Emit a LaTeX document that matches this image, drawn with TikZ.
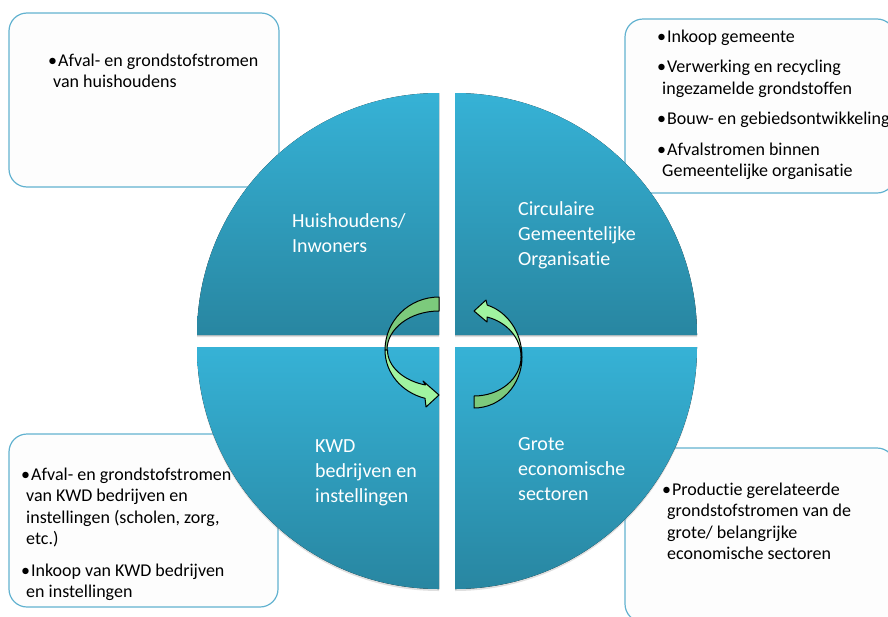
\documentclass[tikz,border=0pt]{standalone}
\usepackage{fontspec}
\setmainfont{Carlito}[Ligatures=NoCommon]
\usetikzlibrary{shadows}

\definecolor{quarterlight}{RGB}{54,178,214}
\definecolor{quarterdark}{RGB}{40,134,161}
\definecolor{boxline}{RGB}{98,178,208}
\definecolor{boxfill}{RGB}{253,253,253}
\definecolor{ribbondark}{RGB}{124,202,124}
\definecolor{ribbonlight}{RGB}{160,244,160}

\newcommand{\bul}{\textbullet\kern1pt}
\newcommand{\contl}{\hspace*{5pt}}

\begin{document}
\begin{tikzpicture}[x=1pt, y=-1pt,
        infobox/.style={draw=boxline, line width=1.2pt, fill=boxfill, rounded corners=18pt},
        quarter/.style={top color=quarterlight, bottom color=quarterdark, drop shadow={opacity=0.25, shadow xshift=0pt, shadow yshift=-2pt}},
        qlabel/.style={anchor=north west, align=left, inner sep=0pt, text=white, font=\fontsize{20}{25}\selectfont},
        blabel/.style={anchor=north west, align=left, inner sep=0pt, font=\fontsize{18}{21.5}\selectfont},
        ribbon/.style={draw=black, line width=1pt, line join=round}]
    \useasboundingbox (0,0) rectangle (888,616);
    % Info boxes
    \draw[infobox] (9,13) rectangle (279,187);
    \draw[infobox] (625,19) rectangle (895,193);
    \draw[infobox] (9,434) rectangle (278,607);
    \draw[infobox] (625,448) rectangle (895,622);
    \node[blabel] (hhtxt) at (48,51) {\strut\bul Afval- en grondstofstromen\\\contl van huishoudens};
    \node[blabel] (cgotxt) at (657,27) {\strut\bul Inkoop gemeente\\[9pt]\bul Verwerking en recycling\\\contl ingezamelde grondstoffen\\[9pt]\bul Bouw- en gebiedsontwikkeling\\[9pt]\bul Afvalstromen binnen\\\contl Gemeentelijke organisatie};
    \node[blabel] (kwdtxt) at (21,465) {\strut\bul Afval- en grondstofstromen\\\contl van KWD bedrijven en\\\contl instellingen (scholen, zorg,\\\contl etc.)\\[10pt]\bul Inkoop van KWD bedrijven\\\contl en instellingen};
    \node[blabel] (gestxt) at (662,480) {\strut\bul Productie gerelateerde\\\contl grondstofstromen van de\\\contl grote/ belangrijke\\\contl economische sectoren};
    % Quarters of the circle
    \fill[quarter] (439,335) -- (197,335) arc[start angle=180, end angle=270, radius=242] -- cycle;
    \fill[quarter] (455,335) -- (455,93) arc[start angle=270, end angle=360, radius=242] -- cycle;
    \fill[quarter] (439,347) -- (197,347) arc[start angle=180, end angle=90, radius=242] -- cycle;
    \fill[quarter] (455,347) -- (697,347) arc[start angle=0, end angle=90, radius=242] -- cycle;
    \node[qlabel] (hh) at (292,209.5) {\strut Huishoudens/\\Inwoners};
    \node[qlabel] (cgo) at (518,197.5) {\strut Circulaire\\Gemeentelijke\\Organisatie};
    \node[qlabel] (kwd) at (315,434.5) {\strut KWD\\bedrijven en\\instellingen};
    \node[qlabel] (ges) at (518,432.5) {\strut Grote\\economische\\sectoren};
    % Circular arrows
    \filldraw[ribbon, fill=ribbondark] (439,297) arc[start angle=270, end angle=180, x radius=54, y radius=53] -- (387,350) arc[start angle=180, end angle=270, x radius=52, y radius=39] -- cycle;
    \filldraw[ribbon, fill=ribbonlight] (385,350) arc[start angle=180, end angle=105, x radius=54, y radius=50] -- (426,407) -- (439,395) -- (423,381) -- (425.5,385) arc[start angle=105.6, end angle=180, x radius=52, y radius=36.3] -- cycle;
    \filldraw[ribbon, fill=ribbondark] (474,408) arc[start angle=90, end angle=0, x radius=48, y radius=51] -- (521,357) arc[start angle=0, end angle=90, x radius=47, y radius=39] -- cycle;
    \filldraw[ribbon, fill=ribbonlight] (522,357) arc[start angle=0, end angle=-74, x radius=48, y radius=54] -- (486,300) -- (474,311) -- (487,322) -- (487,317) arc[start angle=-74, end angle=0, x radius=47, y radius=41.5] -- cycle;
\end{tikzpicture}
\end{document}
